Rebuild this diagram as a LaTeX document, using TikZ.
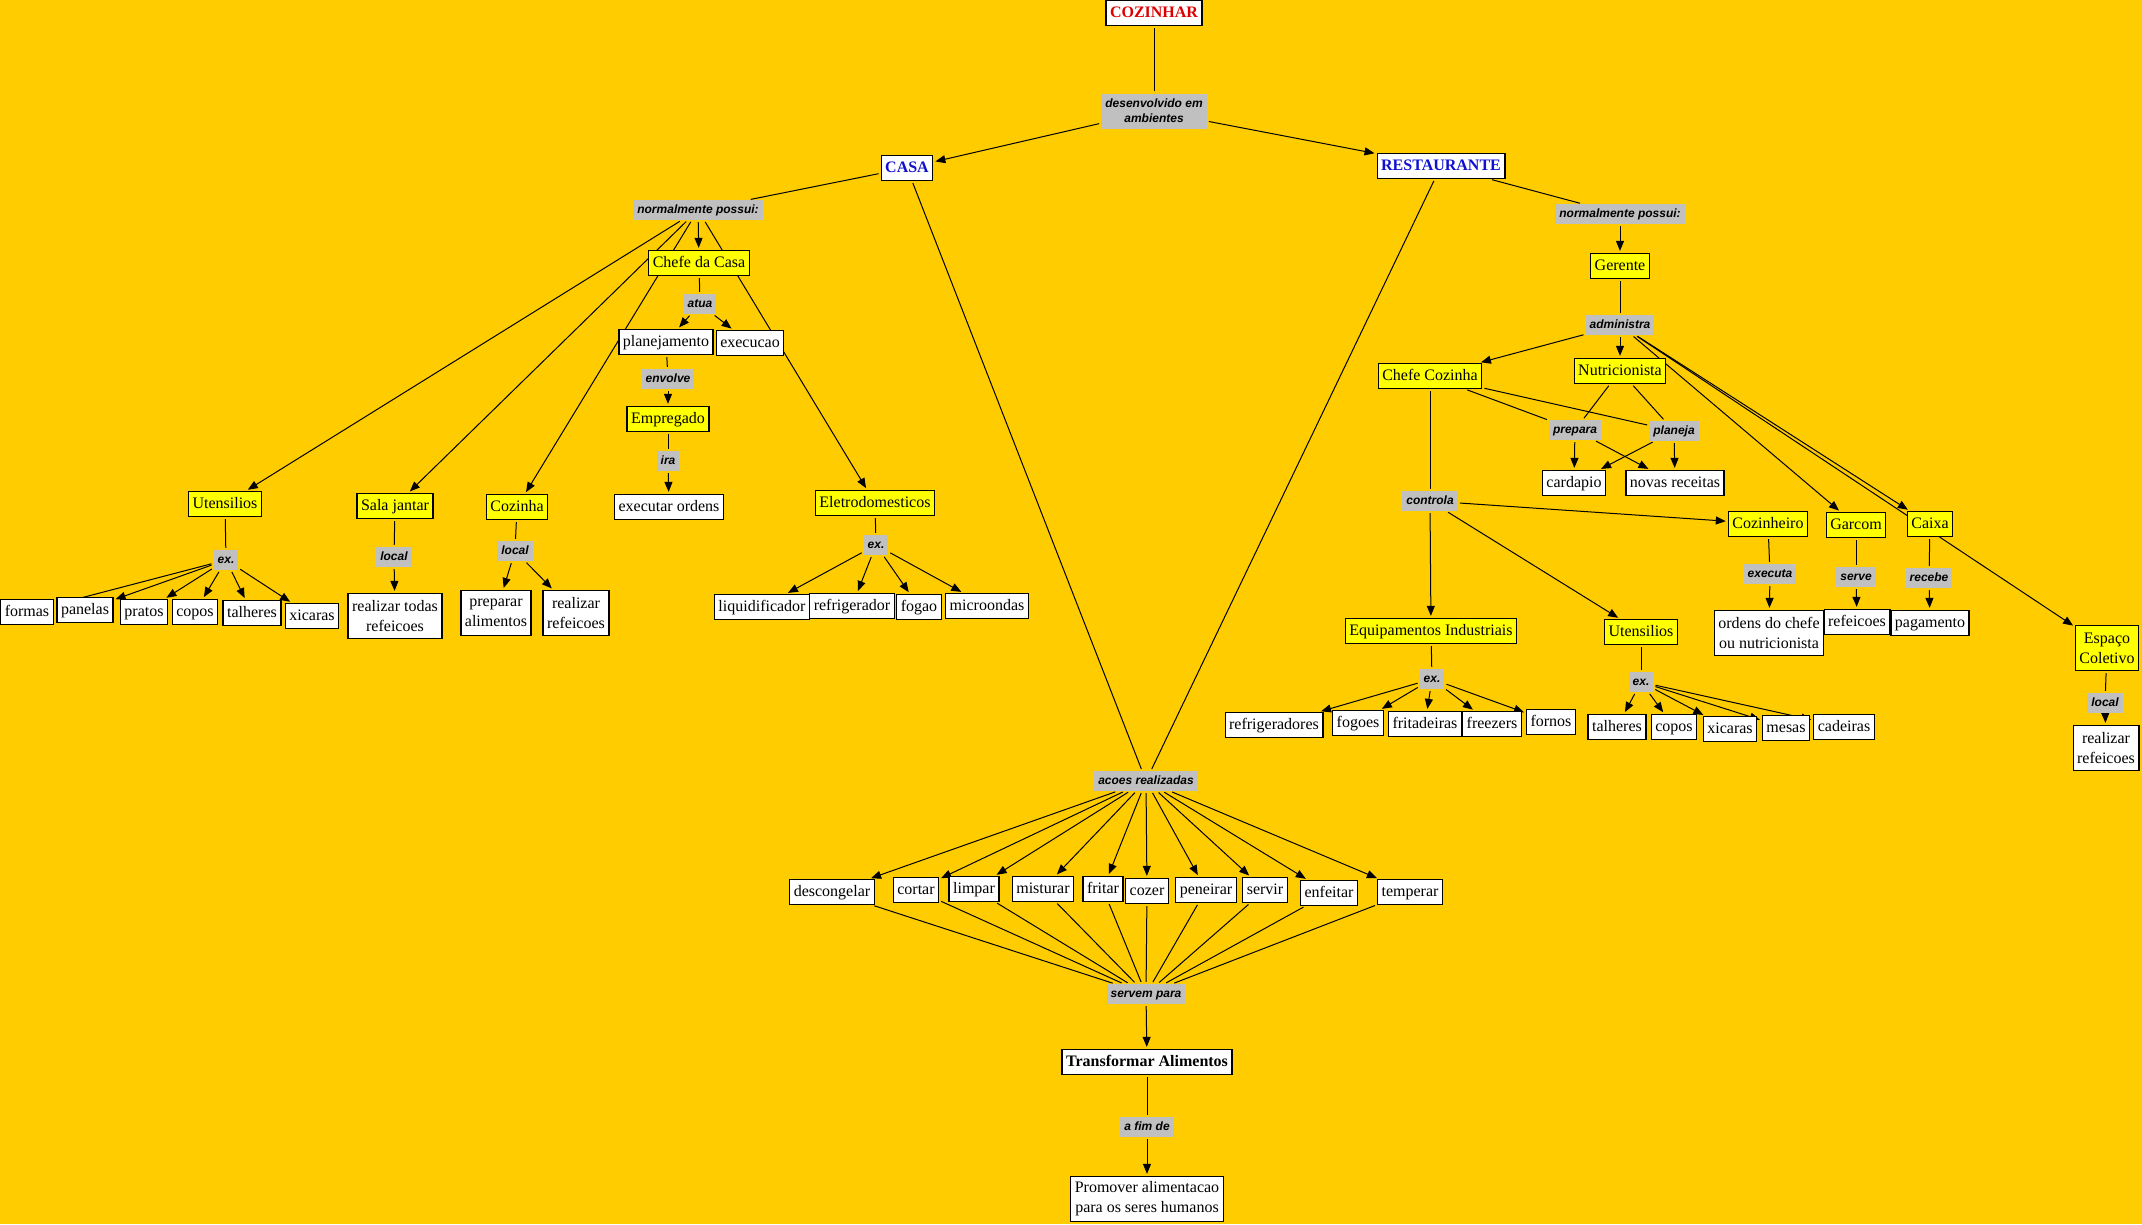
\documentclass[tikz,border=0pt]{standalone}
\usepackage{fontspec}
\setmainfont{Liberation Serif}
\newfontfamily\labfont{Liberation Sans}
\usetikzlibrary{arrows.meta}
\pgfdeclarelayer{bgl}\pgfdeclarelayer{edg}\pgfsetlayers{bgl,edg,main}
\definecolor{bgc}{HTML}{FFCC00}
\definecolor{yel}{HTML}{FFFF00}
\definecolor{lgray}{HTML}{C0C0C0}
\definecolor{cred}{HTML}{DD0000}
\definecolor{cblue}{HTML}{1010D0}
\tikzset{
  cw/.style={draw=black, fill=white, line width=1.3pt, font=\fontsize{16}{20}\selectfont,
    inner xsep=4pt, inner ysep=5pt, text height=11.5pt, text depth=3.5pt, align=center},
  cy/.style={cw, fill=yel},
  cw2/.style={draw=black, fill=white, line width=1.3pt, font=\fontsize{16}{20}\selectfont,
    inner xsep=4pt, inner ysep=3pt, minimum height=45pt, align=center},
  cy2/.style={cw2, fill=yel},
  lk/.style={fill=lgray, font=\labfont\bfseries\itshape\fontsize{12}{15}\selectfont,
    inner xsep=4pt, inner ysep=4.5pt, text height=8.5pt, text depth=2.5pt, align=center},
  lk2/.style={fill=lgray, font=\labfont\bfseries\itshape\fontsize{12}{15}\selectfont,
    inner xsep=4pt, inner ysep=3pt, minimum height=35pt, align=center},
  ln/.style={line width=1pt, shorten <=2pt, shorten >=2pt},
  ar/.style={ln, -{Triangle[length=10pt,width=8pt]}}
}
\begin{document}
\begin{tikzpicture}[x=1pt,y=-1pt]
\begin{pgfonlayer}{bgl}
\fill[bgc] (0,0) rectangle (2142,1224);
\end{pgfonlayer}
\useasboundingbox (0,0) rectangle (2142,1224);

% top
\node[cw, text=cred, font=\bfseries\fontsize{16}{20}\selectfont] (cozinhar) at (1154,13) {COZINHAR};
\node[lk2] (desenv) at (1154,111) {desenvolvido em\\ambientes};
\node[cw, text=cblue, font=\bfseries\fontsize{16}{20}\selectfont] (casa) at (907,168) {CASA};
\node[cw, text=cblue, font=\bfseries\fontsize{16}{20}\selectfont] (rest) at (1441,166) {RESTAURANTE};

% casa side
\node[lk] (npL) at (698,210) {normalmente possui:};
\node[cy] (chefecasa) at (699,263) {Chefe da Casa};
\node[lk] (atua) at (700,304) {atua};
\node[cw] (planej) at (666,342) {planejamento};
\node[cw] (execucao) at (750,343) {execucao};
\node[lk] (envolve) at (668,379) {envolve};
\node[cy] (empregado) at (668,419) {Empregado};
\node[lk] (ira) at (668,461) {ira};
\node[cw] (executar) at (669,507) {executar ordens};
\node[cy] (utensL) at (225,504) {Utensilios};
\node[cy] (sala) at (395,506) {Sala jantar};
\node[cy] (cozinha) at (517,507) {Cozinha};
\node[cy] (eletro) at (875,503) {Eletrodomesticos};
\node[lk] (exU) at (226,560) {ex.};
\node[cw] (formas) at (27,612) {formas};
\node[cw] (panelas) at (85,610) {panelas};
\node[cw] (pratos) at (144,612) {pratos};
\node[cw] (copos) at (195,612) {copos};
\node[cw] (talheres) at (252,613) {talheres};
\node[cw] (xicaras) at (312,616) {xicaras};
\node[lk] (localS) at (394,557) {local};
\node[cw2] (realtodas) at (395,616) {realizar todas\\refeicoes};
\node[lk] (localC) at (515,551) {local};
\node[cw2] (preparar) at (496,613) {preparar\\alimentos};
\node[cw2] (realL) at (576,613) {realizar\\refeicoes};
\node[lk] (exE) at (876,545) {ex.};
\node[cw] (liquid) at (762,607) {liquidificador};
\node[cw] (refrig) at (852,606) {refrigerador};
\node[cw] (fogao) at (919,607) {fogao};
\node[cw] (micro) at (987,606) {microondas};

% restaurante side
\node[lk] (npR) at (1620,214) {normalmente possui:};
\node[cy] (gerente) at (1620,266) {Gerente};
\node[lk] (admin) at (1620,325) {administra};
\node[cy] (chefecoz) at (1430,376) {Chefe Cozinha};
\node[cy] (nutri) at (1620,371) {Nutricionista};
\node[lk] (prepara) at (1575,430) {prepara};
\node[lk] (planeja) at (1674,431) {planeja};
\node[cw] (cardapio) at (1574,483) {cardapio};
\node[cw] (novas) at (1675,483) {novas receitas};
\node[lk] (controla) at (1430,501) {controla};
\node[cy] (cozinheiro) at (1768,524) {Cozinheiro};
\node[cy] (garcom) at (1856,525) {Garcom};
\node[cy] (caixa) at (1930,524) {Caixa};
\node[lk] (executa) at (1770,574) {executa};
\node[lk] (serve) at (1856,577) {serve};
\node[lk] (recebe) at (1929,578) {recebe};
\node[cw2] (ordens) at (1769,633) {ordens do chefe\\ou nutricionista};
\node[cw] (refG) at (1857,622) {refeicoes};
\node[cw] (pagamento) at (1930,623) {pagamento};
\node[cy2] (espaco) at (2107,648) {Espaço\\Coletivo};
\node[lk] (localE) at (2105,703) {local};
\node[cw2] (realR) at (2106,748) {realizar\\refeicoes};
\node[cy] (equip) at (1431,631) {Equipamentos Industriais};
\node[cy] (utensR) at (1641,632) {Utensilios};
\node[lk] (exEq) at (1432,679) {ex.};
\node[lk] (exUR) at (1641,682) {ex.};
\node[cw] (refrigs) at (1274,725) {refrigeradores};
\node[cw] (fogoes) at (1358,723) {fogoes};
\node[cw] (fritad) at (1425,724) {fritadeiras};
\node[cw] (freezers) at (1492,724) {freezers};
\node[cw] (fornos) at (1551,722) {fornos};
\node[cw] (talheresR) at (1617,727) {talheres};
\node[cw] (coposR) at (1674,727) {copos};
\node[cw] (xicarasR) at (1730,729) {xicaras};
\node[cw] (mesas) at (1786,728) {mesas};
\node[cw] (cadeiras) at (1844,727) {cadeiras};

% bottom
\node[lk] (acoes) at (1146,781) {acoes realizadas};
\node[cw] (descongelar) at (832,892) {descongelar};
\node[cw] (cortar) at (916,890) {cortar};
\node[cw] (limpar) at (974,889) {limpar};
\node[cw] (misturar) at (1043,889) {misturar};
\node[cw] (fritar) at (1103,889) {fritar};
\node[cw] (cozer) at (1147,891) {cozer};
\node[cw] (peneirar) at (1206,890) {peneirar};
\node[cw] (servir) at (1265,890) {servir};
\node[cw] (enfeitar) at (1329,893) {enfeitar};
\node[cw] (temperar) at (1410,892) {temperar};
\node[lk] (servem) at (1146,994) {servem para};
\node[cw, font=\bfseries\fontsize{16}{20}\selectfont] (transf) at (1147,1062) {Transformar Alimentos};
\node[lk] (afim) at (1147,1127) {a fim de};
\node[cw2] (promover) at (1147,1199) {Promover alimentacao\\para os seres humanos};

\begin{pgfonlayer}{edg}
\draw[ln] (cozinhar) -- (desenv);
\draw[ar] (desenv) -- (casa);
\draw[ar] (desenv) -- (rest);
\draw[ln] (casa) -- (npL);
\draw[ln] (casa) -- (acoes);
\draw[ln] (rest) -- (acoes);
\foreach \t in {chefecasa,utensL,sala,cozinha,eletro} \draw[ar] (npL) -- (\t);
\draw[ln] (chefecasa) -- (atua);
\draw[ar] (atua) -- (planej);
\draw[ar] (atua) -- (execucao);
\draw[ln] (planej) -- (envolve);
\draw[ar] (envolve) -- (empregado);
\draw[ln] (empregado) -- (ira);
\draw[ar] (ira) -- (executar);
\draw[ln] (utensL) -- (exU);
\foreach \t in {formas,panelas,pratos,copos,talheres,xicaras} \draw[ar] (exU) -- (\t);
\draw[ln] (sala) -- (localS);
\draw[ar] (localS) -- (realtodas);
\draw[ln] (cozinha) -- (localC);
\draw[ar] (localC) -- (preparar);
\draw[ar] (localC) -- (realL);
\draw[ln] (eletro) -- (exE);
\foreach \t in {liquid,refrig,fogao,micro} \draw[ar] (exE) -- (\t);

\draw[ln] (rest) -- (npR);
\draw[ar] (npR) -- (gerente);
\draw[ln] (gerente) -- (admin);
\foreach \t in {chefecoz,nutri,garcom,caixa,espaco} \draw[ar] (admin) -- (\t);
\draw[ln] (chefecoz) -- (prepara);
\draw[ln] (chefecoz) -- (planeja);
\draw[ln] (nutri) -- (prepara);
\draw[ln] (nutri) -- (planeja);
\draw[ar] (prepara) -- (cardapio);
\draw[ar] (prepara) -- (novas);
\draw[ar] (planeja) -- (cardapio);
\draw[ar] (planeja) -- (novas);
\draw[ln] (chefecoz) -- (controla);
\foreach \t in {cozinheiro,equip,utensR} \draw[ar] (controla) -- (\t);
\draw[ln] (cozinheiro) -- (executa);
\draw[ar] (executa) -- (ordens);
\draw[ln] (garcom) -- (serve);
\draw[ar] (serve) -- (refG);
\draw[ln] (caixa) -- (recebe);
\draw[ar] (recebe) -- (pagamento);
\draw[ln] (espaco) -- (localE);
\draw[ar] (localE) -- (realR);
\draw[ln] (equip) -- (exEq);
\foreach \t in {refrigs,fogoes,fritad,freezers,fornos} \draw[ar] (exEq) -- (\t);
\draw[ln] (utensR) -- (exUR);
\foreach \t in {talheresR,coposR,xicarasR,mesas,cadeiras} \draw[ar] (exUR) -- (\t);

\foreach \t in {descongelar,cortar,limpar,misturar,fritar,cozer,peneirar,servir,enfeitar,temperar} {
  \draw[ar] (acoes) -- (\t);
  \draw[ln] (\t) -- (servem);
}
\draw[ar] (servem) -- (transf);
\draw[ln] (transf) -- (afim);
\draw[ar] (afim) -- (promover);
\end{pgfonlayer}
\end{tikzpicture}
\end{document}
